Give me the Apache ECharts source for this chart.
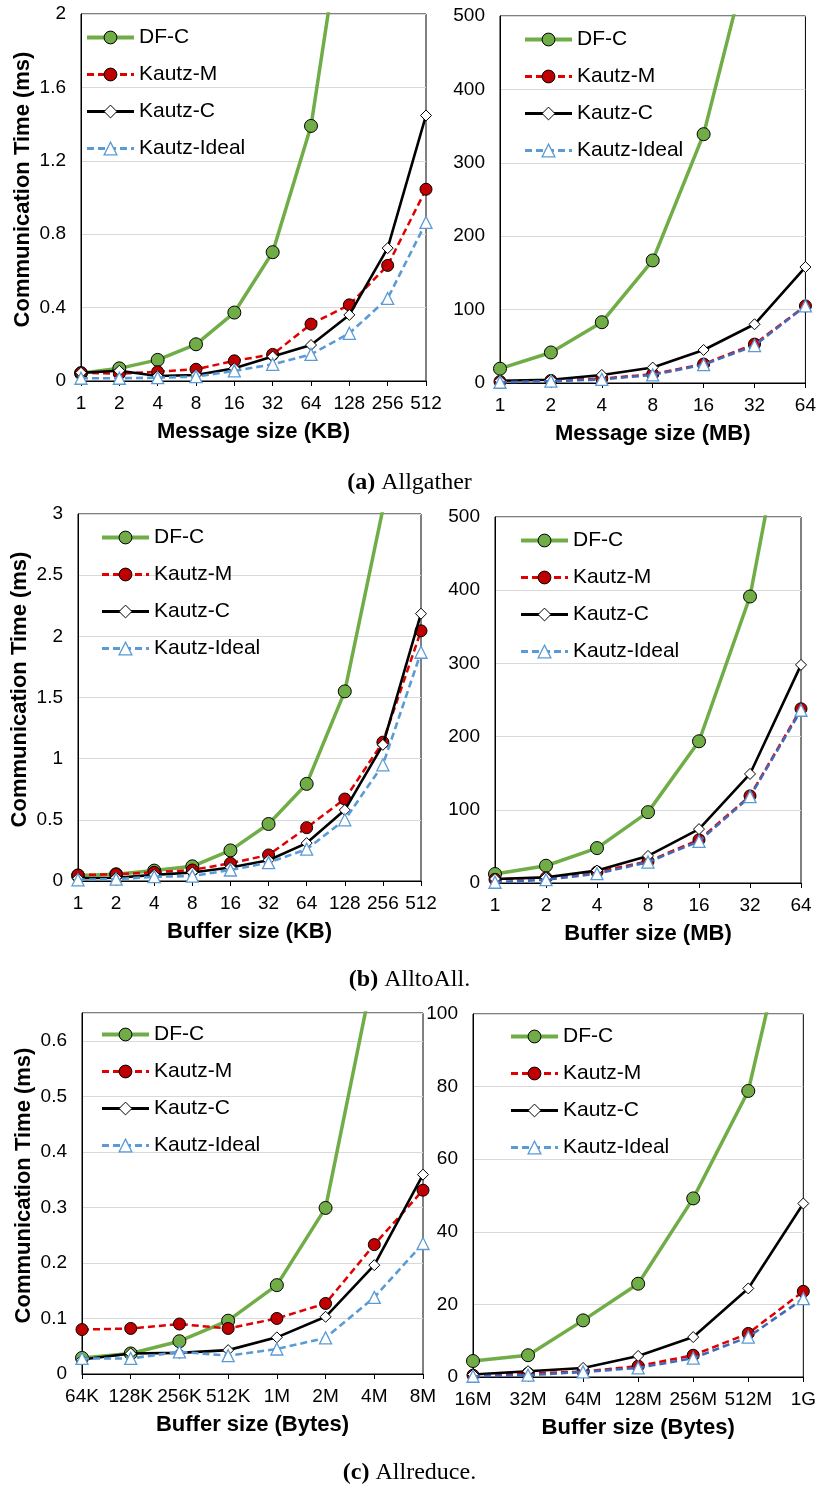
<!DOCTYPE html>
<html>
<head>
<meta charset="utf-8">
<script src="https://cdn.jsdelivr.net/npm/echarts@6/dist/echarts.min.js"></script>
<style>
html,body{margin:0;padding:0;background:#fff;}
#chart{width:819px;height:1490px;}
</style>
</head>
<body>
<div id="chart"></div>
<script>
// ---------- DATA ----------
const seriesNames = ['DF-C', 'Kautz-M', 'Kautz-C', 'Kautz-Ideal'];

// (a) Allgather, small messages (ms)
const agSmallCats = ['1','2','4','8','16','32','64','128','256','512'];
const agSmallDFC    = [0.042, 0.069, 0.115, 0.2, 0.373, 0.702, 1.39, 2.76, 5.5, 11];
const agSmallKM     = [0.045, 0.04, 0.05, 0.064, 0.11, 0.145, 0.31, 0.415, 0.63, 1.045];
const agSmallKC     = [0.045, 0.056, 0.027, 0.033, 0.069, 0.133, 0.196, 0.36, 0.724, 1.447];
const agSmallIdeal  = [0.015, 0.015, 0.018, 0.024, 0.055, 0.091, 0.145, 0.26, 0.45, 0.864];

// (a) Allgather, large messages (ms)
const agLargeCats = ['1','2','4','8','16','32','64'];
const agLargeDFC    = [19.5, 41.6, 82.8, 167, 339, 613, 1100];
const agLargeKM     = [2, 3.5, 6, 12, 25.8, 53, 105];
const agLargeKC     = [3, 4.5, 11, 21, 45, 80, 158];
const agLargeIdeal  = [1, 2.5, 5, 11, 25, 51, 105];

// (b) AlltoAll, small buffers (ms)
const aaSmallCats = ['1','2','4','8','16','32','64','128','256','512'];
const aaSmallDFC    = [0.044, 0.055, 0.085, 0.12, 0.25, 0.466, 0.794, 1.55, 3.04, 6.2];
const aaSmallKM     = [0.049, 0.055, 0.071, 0.09, 0.145, 0.213, 0.436, 0.67, 1.135, 2.045];
const aaSmallKC     = [0.022, 0.027, 0.05, 0.07, 0.11, 0.17, 0.31, 0.58, 1.113, 2.185];
const aaSmallIdeal  = [0.01, 0.015, 0.035, 0.04, 0.09, 0.15, 0.26, 0.5, 0.95, 1.87];

// (b) AlltoAll, large buffers (ms)
const aaLargeCats = ['1','2','4','8','16','32','64'];
const aaLargeDFC    = [12.3, 23.6, 47.7, 96.8, 193.6, 391.4, 758];
const aaLargeKM     = [5, 7, 15, 29.5, 59, 119, 238];
const aaLargeKC     = [5.5, 7.7, 17, 37, 73.6, 149, 298];
const aaLargeIdeal  = [1, 4.5, 12.7, 28.6, 57, 118, 236];

// (c) Allreduce, small buffers (ms)
const arSmallCats = ['64K','128K','256K','512K','1M','2M','4M','8M'];
const arSmallDFC    = [0.029, 0.037, 0.059, 0.096, 0.16, 0.299, 0.73, 1.6];
const arSmallKM     = [0.08, 0.082, 0.09, 0.082, 0.1, 0.127, 0.233, 0.331];
const arSmallKC     = [0.026, 0.037, 0.038, 0.043, 0.066, 0.103, 0.196, 0.359];
const arSmallIdeal  = [0.028, 0.028, 0.04, 0.033, 0.045, 0.065, 0.138, 0.235];

// (c) Allreduce, large buffers (ms)
const arLargeCats = ['16M','32M','64M','128M','256M','512M','1G'];
const arLargeDFC    = [4.4, 6, 15.6, 25.7, 49.2, 78.8, 144];
const arLargeKM     = [0.5, 1, 1.5, 3, 6, 12, 23.6];
const arLargeKC     = [0.7, 1.6, 2.5, 5.8, 11, 24.4, 47.8];
const arLargeIdeal  = [0.2, 0.5, 1.4, 2.5, 5.2, 11, 21.6];

// axis titles / captions
const yTitle = 'Communication Time (ms)';
const xTitles = ['Message size (KB)', 'Message size (MB)', 'Buffer size (KB)', 'Buffer size (MB)', 'Buffer size (Bytes)', 'Buffer size (Bytes)'];
const captions = [['(a)', 'Allgather'], ['(b)', 'AlltoAll.'], ['(c)', 'Allreduce.']];

// ---------- LAYOUT / STYLE ----------
const FONT = 'Liberation Sans, Arial, sans-serif';
const panels = [
  {cats: agSmallCats, data: [agSmallDFC, agSmallKM, agSmallKC, agSmallIdeal], grid: {left: 81, top: 14, width: 345, height: 367}, y: {max: 2, interval: 0.4}, leg: {left: 85, top: 27}, ytitle: true, idealLine: '#5B9BD5'},
  {cats: agLargeCats, data: [agLargeDFC, agLargeKM, agLargeKC, agLargeIdeal], grid: {left: 500, top: 16, width: 306, height: 367}, y: {max: 500, interval: 100}, leg: {left: 523, top: 29}, ytitle: false, idealLine: '#4169B8'},
  {cats: aaSmallCats, data: [aaSmallDFC, aaSmallKM, aaSmallKC, aaSmallIdeal], grid: {left: 78, top: 514, width: 343, height: 367}, y: {max: 3, interval: 0.5}, leg: {left: 100, top: 527}, ytitle: true, idealLine: '#5B9BD5'},
  {cats: aaLargeCats, data: [aaLargeDFC, aaLargeKM, aaLargeKC, aaLargeIdeal], grid: {left: 495, top: 517, width: 306, height: 366}, y: {max: 500, interval: 100}, leg: {left: 519, top: 530}, ytitle: false, idealLine: '#4169B8'},
  {cats: arSmallCats, data: [arSmallDFC, arSmallKM, arSmallKC, arSmallIdeal], grid: {left: 82, top: 1013, width: 341, height: 361}, y: {max: 0.65, interval: 0.1}, leg: {left: 100, top: 1024}, ytitle: true, idealLine: '#5B9BD5'},
  {cats: arLargeCats, data: [arLargeDFC, arLargeKM, arLargeKC, arLargeIdeal], grid: {left: 473, top: 1014, width: 334, height: 363}, y: {max: 100, interval: 20}, leg: {left: 509, top: 1026}, ytitle: false, idealLine: '#4169B8'}
];
const captionTops = [466, 963, 1456];

function styleFor(k, p) {
  switch (k) {
    case 0: return {symbol: 'circle', symbolSize: 13, lineStyle: {color: '#70AD47', width: 3.5, type: 'solid'}, itemStyle: {color: '#70AD47', borderColor: '#000', borderWidth: 1}};
    case 1: return {symbol: 'circle', symbolSize: 12, lineStyle: {color: '#E00000', width: 2.5, type: [7, 4]}, itemStyle: {color: '#C00000', borderColor: '#000', borderWidth: 1}};
    case 2: return {symbol: 'diamond', symbolSize: 11, lineStyle: {color: '#000', width: 2.6, type: 'solid'}, itemStyle: {color: '#fff', borderColor: '#000', borderWidth: 1}};
    default: return {symbol: 'triangle', symbolSize: 12, lineStyle: {color: p.idealLine, width: 2.6, type: [7, 4]}, itemStyle: {color: '#fff', borderColor: '#5B9BD5', borderWidth: 1.3}};
  }
}

const option = {animation: false, backgroundColor: '#fff', grid: [], xAxis: [], yAxis: [], series: [], legend: [], title: []};

panels.forEach((p, i) => {
  option.grid.push(Object.assign({show: true, borderColor: '#000', borderWidth: 1, backgroundColor: 'transparent'}, p.grid));
  option.xAxis.push({
    type: 'category', gridIndex: i, data: p.cats, boundaryGap: false,
    name: xTitles[i], nameLocation: 'middle', nameGap: 40,
    nameTextStyle: {fontFamily: FONT, fontSize: 22, fontWeight: 'bold', color: '#000'},
    axisLine: {lineStyle: {color: '#000', width: 1}},
    axisTick: {show: true, inside: false, length: 5, lineStyle: {color: '#000'}},
    axisLabel: {fontFamily: FONT, fontSize: 19, color: '#000', margin: 13, interval: 0},
    splitLine: {show: false}
  });
  const ymax = p.y.max;
  option.yAxis.push({
    type: 'value', gridIndex: i, min: 0, max: ymax, interval: p.y.interval,
    name: p.ytitle ? yTitle : '', nameLocation: 'middle', nameGap: 47,
    nameTextStyle: {fontFamily: FONT, fontSize: 22, fontWeight: 'bold', color: '#000', padding: [0, 0, 0, 16]},
    axisLine: {show: true, lineStyle: {color: '#000', width: 1}},
    axisTick: {show: false},
    axisLabel: {fontFamily: FONT, fontSize: 19, color: '#000', margin: 15,
      formatter: v => (Math.abs(v - ymax) < 1e-9 && Math.abs(Math.round(v / p.y.interval) * p.y.interval - v) > 1e-9) ? '' : String(+v.toFixed(4))},
    splitLine: {show: true, lineStyle: {color: '#D9D9D9', width: 1}}
  });
  seriesNames.forEach((name, k) => {
    const st = styleFor(k, p);
    option.series.push(Object.assign({
      type: 'line', name: name, xAxisIndex: i, yAxisIndex: i,
      data: p.data[k], clip: true, showSymbol: true, silent: true,
      emphasis: {disabled: true}, z: 2 + k
    }, st));
  });
  option.legend.push({
    orient: 'vertical', left: p.leg.left, top: p.leg.top, padding: 0,
    itemWidth: 47, itemHeight: 16, itemGap: 16,
    data: seriesNames.map((n, k) => {
      const st = styleFor(k, p);
      return {name: n, lineStyle: {width: k === 0 ? 4 : 3}, itemStyle: {borderWidth: st.itemStyle.borderWidth}};
    }),
    selectedMode: false,
    textStyle: {fontFamily: FONT, fontSize: 21, color: '#000'}
  });
});

captions.forEach((c, j) => {
  option.title.push({
    text: '{b|' + c[0] + '} ' + c[1],
    left: 'center', top: captionTops[j],
    textStyle: {fontFamily: 'Liberation Serif, serif', fontSize: 24, fontWeight: 'normal', color: '#000',
      rich: {b: {fontFamily: 'Liberation Serif, serif', fontSize: 24, fontWeight: 'bold', color: '#000'}}}
  });
});

const chart = echarts.init(document.getElementById('chart'), null, {renderer: 'canvas'});
chart.setOption(option);
</script>
</body>
</html>
